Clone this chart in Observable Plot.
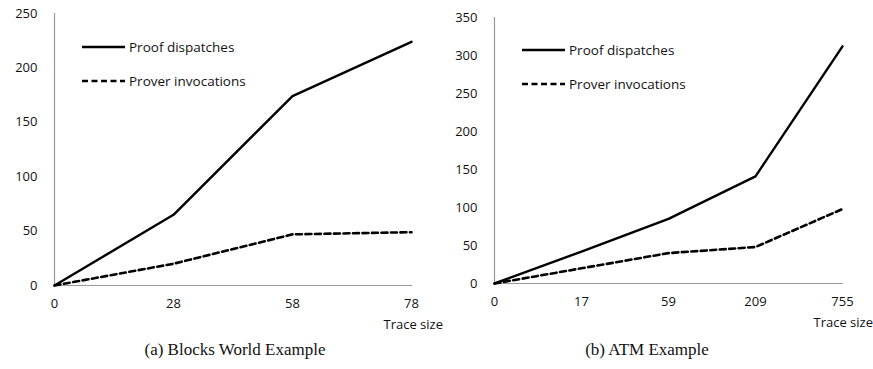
<!DOCTYPE html>
<html>
<head>
<meta charset="utf-8">
<script src="https://cdn.jsdelivr.net/npm/d3@7"></script>
<script src="https://cdn.jsdelivr.net/npm/@observablehq/plot@0.6"></script>
<style>
  html, body { margin: 0; padding: 0; background: #fff; }
  #wrap { position: relative; width: 873px; height: 369px; overflow: hidden; font-family: "Open Sans", "Liberation Sans", sans-serif; }
  .chart { position: absolute; top: 0; }
  .legend { position: absolute; font-size: 13.5px; color: #111; }
  .legend div { display: flex; align-items: center; height: 16px; margin-bottom: 18px; }
  .legend svg { margin-right: 4px; }
  .xlabel { position: absolute; font-size: 13px; color: #111; white-space: nowrap; }
  .caption { position: absolute; top: 340px; font-family: "Liberation Serif", "DejaVu Serif", serif; font-size: 17px; color: #111; white-space: nowrap; transform: translateX(-50%); }
</style>
</head>
<body>
<div id="wrap"></div>
<script>
// Blocks World Example
const blocksTrace = ["0", "28", "58", "78"];
const blocksProof = [0, 65, 174, 224];
const blocksProver = [0, 20, 47, 49];
const blocksTicks = [0, 50, 100, 150, 200, 250];

// ATM Example
const atmTrace = ["0", "17", "59", "209", "755"];
const atmProof = [0, 42, 85, 141, 312];
const atmProver = [0, 20, 40, 48, 98];
const atmTicks = [0, 50, 100, 150, 200, 250, 300, 350];

const seriesNames = ["Proof dispatches", "Prover invocations"];

function rows(trace, a, b) {
  const out = [];
  trace.forEach((t, i) => {
    out.push({trace: t, value: a[i], series: seriesNames[0]});
    out.push({trace: t, value: b[i], series: seriesNames[1]});
  });
  return out;
}

function makeChart(trace, proof, prover, ticks, opts) {
  const data = rows(trace, proof, prover);
  return Plot.plot({
    width: opts.width,
    height: 335,
    marginLeft: opts.marginLeft,
    marginRight: opts.marginRight,
    marginTop: opts.marginTop,
    marginBottom: opts.marginBottom,
    style: {fontFamily: "'Open Sans', 'Liberation Sans', sans-serif", fontSize: "13px", color: "#111", background: "white"},
    x: {type: "point", domain: trace, padding: 0, label: null, tickSize: 0, tickPadding: 13},
    y: {domain: [0, ticks[ticks.length - 1]], ticks: ticks, label: null, tickSize: 0, tickPadding: 16},
    marks: [
      Plot.ruleX([trace[0]], {stroke: "#999", strokeWidth: 1.2}),
      Plot.ruleY([0], {stroke: "#999", strokeWidth: 1.2}),
      Plot.line(data.filter(d => d.series === seriesNames[0]), {x: "trace", y: "value", stroke: "#000", strokeWidth: 2.4}),
      Plot.line(data.filter(d => d.series === seriesNames[1]), {x: "trace", y: "value", stroke: "#000", strokeWidth: 2.6, strokeDasharray: "6,3.5"})
    ]
  });
}

const wrap = document.getElementById("wrap");

function place(el, left) {
  const d = document.createElement("div");
  d.className = "chart";
  d.style.left = left + "px";
  d.appendChild(el);
  wrap.appendChild(d);
}

place(makeChart(blocksTrace, blocksProof, blocksProver, blocksTicks, {width: 436, marginLeft: 53, marginRight: 24, marginTop: 13, marginBottom: 50}), 0);
place(makeChart(atmTrace, atmProof, atmProver, atmTicks, {width: 437, marginLeft: 63, marginRight: 24, marginTop: 17, marginBottom: 52}), 430);

function legend(left, top) {
  const l = document.createElement("div");
  l.className = "legend";
  l.style.left = left + "px";
  l.style.top = top + "px";
  l.innerHTML =
    `<div><svg width="43" height="6"><line x1="0" y1="3" x2="43" y2="3" stroke="#000" stroke-width="2.4"/></svg>${seriesNames[0]}</div>` +
    `<div><svg width="43" height="6"><line x1="0" y1="3" x2="43" y2="3" stroke="#000" stroke-width="2.6" stroke-dasharray="6,3.5"/></svg>${seriesNames[1]}</div>`;
  wrap.appendChild(l);
}
legend(82, 39);
legend(522, 42);

function xlabel(right, top) {
  const t = document.createElement("div");
  t.className = "xlabel";
  t.style.right = right + "px";
  t.style.top = top + "px";
  t.textContent = "Trace size";
  wrap.appendChild(t);
}
xlabel(873 - 443, 315);
xlabel(0, 313);

function caption(cx, text) {
  const c = document.createElement("div");
  c.className = "caption";
  c.style.left = cx + "px";
  c.textContent = text;
  wrap.appendChild(c);
}
caption(235, "(a) Blocks World Example");
caption(647, "(b) ATM Example");
</script>
</body>
</html>
